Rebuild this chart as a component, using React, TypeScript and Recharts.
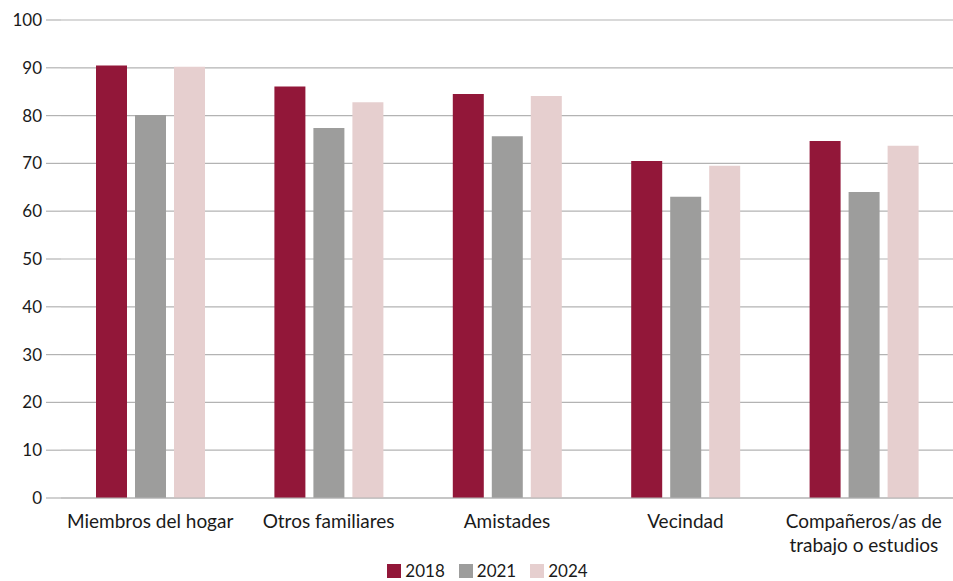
import React from "react";
import { BarChart, Bar, XAxis, YAxis, CartesianGrid, Legend } from "recharts";

const categories = [
  "Miembros del hogar",
  "Otros familiares",
  "Amistades",
  "Vecindad",
  "Compañeros/as de trabajo o estudios",
];
const values2018 = [90.5, 86.1, 84.5, 70.5, 74.7];
const values2021 = [80.1, 77.4, 75.7, 63.0, 64.0];
const values2024 = [90.2, 82.8, 84.1, 69.5, 73.7];
const yTicks = [0, 10, 20, 30, 40, 50, 60, 70, 80, 90, 100];

const series = [
  { key: "y2018", name: "2018", color: "#921739" },
  { key: "y2021", name: "2021", color: "#9d9d9c" },
  { key: "y2024", name: "2024", color: "#e6cfcf" },
];

const data = categories.map((c, i) => ({
  name: c,
  y2018: values2018[i],
  y2021: values2021[i],
  y2024: values2024[i],
}));

const FONT_X = "Lato, sans-serif";
const FONT_Y = "Lato, sans-serif";

function wrap(text: string, maxChars: number): string[] {
  const words = text.split(" ");
  const lines: string[] = [];
  let cur = "";
  for (const w of words) {
    const t = cur ? cur + " " + w : w;
    if (t.length > maxChars && cur) {
      lines.push(cur);
      cur = w;
    } else cur = t;
  }
  if (cur) lines.push(cur);
  return lines;
}

const XTick = (props: any) => {
  const { x, y, payload } = props;
  const lines = wrap(payload.value, 18);
  return (
    <text
      x={x}
      y={y}
      textAnchor="middle"
      fill="#1a1a1a"
      fontFamily={FONT_X}
      fontSize={19}
    >
      {lines.map((l, i) => (
        <tspan key={i} x={x} dy={i === 0 ? 22 : 24}>
          {l}
        </tspan>
      ))}
    </text>
  );
};

const YTick = (props: any) => {
  const { x, y, payload } = props;
  return (
    <text
      x={x}
      y={y}
      dy={6}
      textAnchor="end"
      fill="#1a1a1a"
      fontFamily={FONT_Y}
      fontSize={17}
    >
      {payload.value}
    </text>
  );
};

const LegendContent = () => (
  <div
    style={{
      display: "flex",
      justifyContent: "center",
      alignItems: "center",
      fontFamily: FONT_Y,
      fontSize: 17,
      lineHeight: "19px",
      color: "#1a1a1a",
      paddingLeft: 36,
    }}
  >
    {series.map((s) => (
      <div
        key={s.key}
        style={{ display: "flex", alignItems: "center", marginRight: 14 }}
      >
        <span
          style={{
            display: "inline-block",
            width: 14,
            height: 14,
            background: s.color,
            marginRight: 4,
          }}
        />
        <span>{s.name}</span>
      </div>
    ))}
  </div>
);

export default function App() {
  return (
    <div style={{ position: "absolute", left: 0, top: 0, background: "#fff" }}>
      <BarChart
        width={953}
        height={581}
        data={data}
        margin={{ top: 20, right: 0, bottom: 0, left: 0 }}
        barGap={8}
        barSize={31}
      >
        <CartesianGrid
          vertical={false}
          stroke="#b3b3b3"
          strokeWidth={1.2}
        />
        <XAxis
          dataKey="name"
          interval={0}
          tick={<XTick />}
          tickLine={false}
          axisLine={{ stroke: "#b3b3b3", strokeWidth: 1.2 }}
          height={63}
        />
        <YAxis
          domain={[0, 100]}
          ticks={yTicks}
          width={61}
          tick={<YTick />}
          tickSize={15}
          tickMargin={4}
          tickLine={{ stroke: "#b3b3b3", strokeWidth: 1.2 }}
          axisLine={false}
        />
        <Legend verticalAlign="bottom" height={20} content={<LegendContent />} />
        {series.map((s) => (
          <Bar
            key={s.key}
            dataKey={s.key}
            name={s.name}
            fill={s.color}
            isAnimationActive={false}
          />
        ))}
      </BarChart>
    </div>
  );
}
